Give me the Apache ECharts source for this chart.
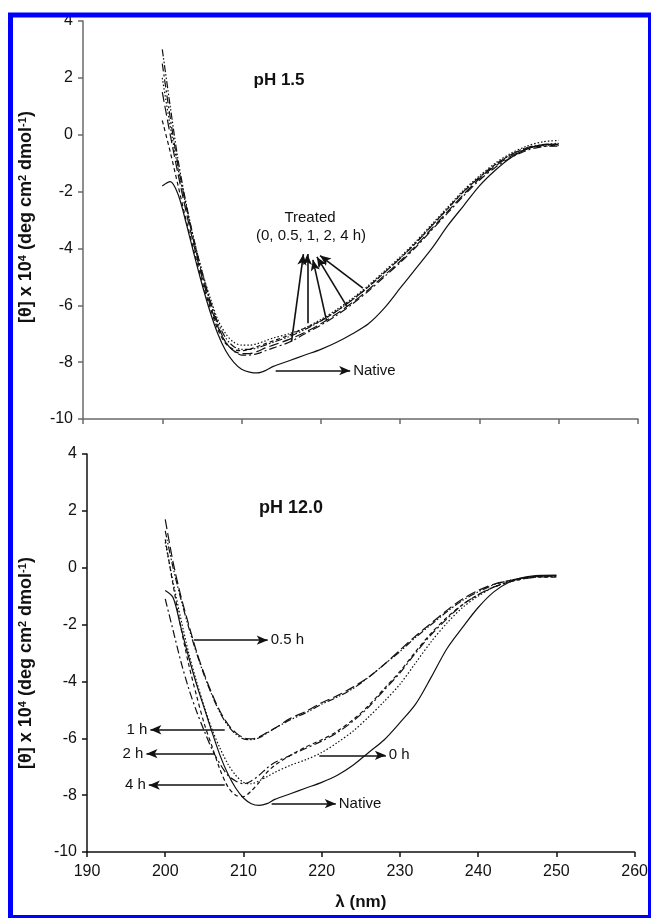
<!DOCTYPE html>
<html>
<head>
<meta charset="utf-8">
<script src="https://cdn.jsdelivr.net/npm/echarts@6/dist/echarts.min.js"></script>
<style>
  html, body { margin: 0; padding: 0; background: #fff; }
</style>
</head>
<body>
<div id="main" style="width: 651px; height: 918px"></div>
<script>
// wavelength points (nm) shared by every curve
const wl = [200, 201, 202, 203, 204, 205, 206, 207, 208, 209, 210, 211, 212, 213, 214,
  216, 218, 220, 222, 224, 226, 228, 230, 232, 234, 236, 238, 240, 242, 244, 246, 248, 250];

// pH 1.5 panel
const nativeTop = [-1.8, -1.65, -2.1, -3.1, -4.2, -5.25, -6.2, -7.0, -7.6, -8.0, -8.25, -8.35, -8.38, -8.3, -8.15,
  -7.95, -7.75, -7.55, -7.3, -7.0, -6.65, -6.1, -5.4, -4.7, -4.0, -3.2, -2.5, -1.8, -1.25, -0.8, -0.5, -0.35, -0.33];
const h0Top = [2.0, 0.3, -1.2, -2.5, -3.7, -4.8, -5.7, -6.5, -7.0, -7.3, -7.4, -7.4, -7.35, -7.25, -7.15,
  -7.0, -6.8, -6.5, -6.15, -5.75, -5.3, -4.8, -4.3, -3.75, -3.15, -2.55, -1.95, -1.45, -1.0, -0.65, -0.4, -0.25, -0.2];
const h05Top = [3.0, 1.0, -0.9, -2.4, -3.7, -4.8, -5.8, -6.6, -7.15, -7.45, -7.55, -7.55, -7.5, -7.4, -7.3,
  -7.1, -6.85, -6.55, -6.2, -5.8, -5.35, -4.85, -4.35, -3.8, -3.2, -2.6, -2.0, -1.5, -1.05, -0.7, -0.45, -0.35, -0.3];
const h1Top = [1.5, 0.0, -1.4, -2.7, -3.9, -5.0, -5.95, -6.75, -7.3, -7.6, -7.7, -7.7, -7.62, -7.5, -7.4,
  -7.2, -6.95, -6.65, -6.3, -5.9, -5.45, -4.95, -4.45, -3.9, -3.3, -2.7, -2.1, -1.55, -1.1, -0.75, -0.5, -0.38, -0.35];
const h2Top = [2.5, 0.6, -1.1, -2.5, -3.8, -4.9, -5.85, -6.7, -7.3, -7.6, -7.75, -7.75, -7.7, -7.6, -7.5,
  -7.3, -7.0, -6.7, -6.35, -5.95, -5.5, -5.0, -4.5, -3.95, -3.35, -2.75, -2.15, -1.6, -1.15, -0.8, -0.55, -0.42, -0.4];
const h4Top = [0.5, -0.6, -1.8, -3.0, -4.1, -5.15, -6.05, -6.85, -7.35, -7.55, -7.6, -7.55, -7.45, -7.35, -7.25,
  -7.05, -6.8, -6.55, -6.2, -5.8, -5.35, -4.85, -4.35, -3.8, -3.2, -2.6, -2.0, -1.5, -1.05, -0.7, -0.48, -0.4, -0.38];

// pH 12.0 panel
const nativeBot = [-0.8, -1.05, -2.1, -3.15, -4.1, -4.95, -5.8, -6.6, -7.25, -7.75, -8.1, -8.3, -8.36, -8.3, -8.15,
  -7.95, -7.75, -7.55, -7.3, -6.95, -6.5, -6.05, -5.45, -4.8, -3.85, -2.85, -2.1, -1.4, -0.85, -0.5, -0.33, -0.27, -0.26];
const h0Bot = [0.9, -0.5, -1.8, -3.0, -4.0, -4.9, -5.7, -6.35, -6.9, -7.3, -7.55, -7.6, -7.5, -7.35, -7.2,
  -6.95, -6.75, -6.5, -6.15, -5.75, -5.25, -4.7, -4.1, -3.35, -2.6, -1.95, -1.4, -1.0, -0.68, -0.48, -0.36, -0.3, -0.3];
const h05Bot = [1.3, 0.0, -1.1, -2.1, -3.0, -3.8, -4.5, -5.1, -5.55, -5.85, -6.02, -6.05, -5.98, -5.82, -5.65,
  -5.35, -5.1, -4.8, -4.55, -4.25, -3.85, -3.4, -2.95, -2.45, -2.0, -1.55, -1.15, -0.85, -0.6, -0.45, -0.35, -0.3, -0.3];
const h1Bot = [1.7, 0.2, -1.0, -2.0, -2.95, -3.75, -4.45, -5.05, -5.5, -5.8, -5.98, -6.02, -5.95, -5.8, -5.65,
  -5.3, -5.05, -4.75, -4.5, -4.2, -3.85, -3.4, -2.9, -2.4, -1.95, -1.5, -1.1, -0.8, -0.58, -0.45, -0.35, -0.3, -0.28];
const h2Bot = [-1.1, -2.2, -3.3, -4.25, -5.05, -5.75, -6.4, -6.9, -7.3, -7.5, -7.6, -7.5, -7.3, -7.05, -6.85,
  -6.6, -6.35, -6.1, -5.8, -5.4, -4.9, -4.3, -3.7, -3.0, -2.35, -1.8, -1.3, -0.95, -0.68, -0.5, -0.38, -0.32, -0.32];
const h4Bot = [1.0, -0.6, -2.1, -3.4, -4.5, -5.5, -6.3, -7.1, -7.7, -8.0, -8.05, -7.85, -7.55, -7.2, -6.95,
  -6.6, -6.3, -6.05, -5.75, -5.35, -4.85, -4.25, -3.65, -2.95, -2.3, -1.75, -1.3, -0.95, -0.68, -0.5, -0.38, -0.33, -0.33];

const FONT = "'Liberation Sans', Arial, sans-serif";

// dash patterns
const DOT = [1.5, 2];
const DASH_DOT_DOT = [7, 2, 1.5, 2, 1.5, 2];
const LONG_DASH = [10, 4];
const DASH_DOT = [8, 3, 2, 3];
const SHORT_DASH = [4, 3];

function pairs(vals) {
  return wl.map((x, i) => [x, vals[i]]);
}

function curve(name, idx, vals, dash, arrows) {
  let s = {
    name: name,
    type: "line",
    xAxisIndex: idx,
    yAxisIndex: idx,
    data: pairs(vals),
    smooth: 0.3,
    showSymbol: false,
    lineStyle: { color: "#111", width: 1.2, type: dash },
  };
  if (arrows) {
    s.markLine = {
      silent: true,
      symbol: ["none", "arrow"],
      symbolSize: [7, 11],
      lineStyle: { color: "#111", width: 1.6, type: "solid" },
      label: { show: true, position: "end", distance: 3, color: "#111", fontSize: 15, fontFamily: FONT, formatter: "{b}" },
      data: arrows.map((a) => [
        { name: a[0], coord: [a[1], a[2]] },
        { coord: [a[3], a[4]] },
      ]),
    };
  }
  return s;
}

function xAx(idx, showLabels, color) {
  return {
    type: "value",
    gridIndex: idx,
    min: 190,
    max: 260,
    interval: 10,
    splitLine: { show: false },
    axisLine: { onZero: false, lineStyle: { color: color, width: 1.5 } },
    axisTick: { length: 5, lineStyle: { color: color, width: 1.5 } },
    axisLabel: { show: showLabels, color: "#111", fontSize: 16, fontFamily: FONT, margin: 12 },
    name: showLabels ? "λ (nm)" : "",
    nameLocation: "middle",
    nameGap: 42,
    nameTextStyle: { color: "#111", fontSize: 17, fontWeight: "bold", fontFamily: FONT },
  };
}

function yAx(idx, color) {
  return {
    type: "value",
    gridIndex: idx,
    min: -10,
    max: 4,
    interval: 2,
    splitLine: { show: false },
    axisLine: { show: true, onZero: false, lineStyle: { color: color, width: 1.5 } },
    axisTick: { show: true, length: 5, lineStyle: { color: color, width: 1.5 } },
    axisLabel: { color: "#111", fontSize: 16, fontFamily: FONT, margin: 10 },
  };
}

function yTitle(cx, cy) {
  return {
    type: "text",
    x: cx,
    y: cy,
    rotation: Math.PI / 2,
    style: {
      text: "{a|[θ] x 10}{s|4}{a| (deg cm}{s|2}{a| dmol}{s|-1}{a|)}",
      align: "center",
      verticalAlign: "middle",
      fill: "#111",
      rich: {
        a: { fontSize: 18, fontWeight: "bold", fontFamily: FONT, fill: "#111" },
        s: { fontSize: 11, fontWeight: "bold", fontFamily: FONT, fill: "#111", verticalAlign: "top" },
      },
    },
  };
}

function txt(x, y, text, size, weight) {
  return {
    type: "text",
    x: x,
    y: y,
    style: { text: text, fill: "#111", fontSize: size, fontWeight: weight, fontFamily: FONT, align: "center", verticalAlign: "middle" },
  };
}

let myChart = echarts.init(document.getElementById("main"));

let option = {
  animation: false,
  backgroundColor: "#fff",
  grid: [
    { left: 83, right: 13, top: 21, height: 398 },
    { left: 87, right: 11, top: 454, height: 398 },
  ],
  xAxis: [xAx(0, false, "#6a6a6a"), xAx(1, true, "#111")],
  yAxis: [yAx(0, "#6a6a6a"), yAx(1, "#111")],
  series: [
    // pH 1.5
    curve("Native", 0, nativeTop, "solid", [["Native", 214.3, -8.3, 223.7, -8.3]]),
    curve("0 h", 0, h0Top, DOT, [
      ["", 216.3, -7.28, 217.8, -4.2],
      ["", 218.3, -6.63, 218.3, -4.2],
      ["", 220.7, -6.52, 219.0, -4.4],
      ["", 223.3, -6.05, 219.5, -4.3],
      ["", 225.3, -5.4, 219.9, -4.25],
    ]),
    curve("0.5 h", 0, h05Top, DASH_DOT_DOT),
    curve("1 h", 0, h1Top, LONG_DASH),
    curve("2 h", 0, h2Top, DASH_DOT),
    curve("4 h", 0, h4Top, SHORT_DASH),
    // pH 12.0
    curve("Native", 1, nativeBot, "solid", [["Native", 213.6, -8.3, 221.8, -8.3]]),
    curve("0 h", 1, h0Bot, DOT, [["0 h", 219.7, -6.6, 228.2, -6.6]]),
    curve("0.5 h", 1, h05Bot, DASH_DOT_DOT, [["0.5 h", 203.65, -2.55, 213.1, -2.55]]),
    curve("1 h", 1, h1Bot, LONG_DASH, [["1 h", 207.6, -5.7, 198.1, -5.7]]),
    curve("2 h", 1, h2Bot, DASH_DOT, [["2 h", 206.3, -6.54, 197.6, -6.54]]),
    curve("4 h", 1, h4Bot, SHORT_DASH, [["4 h", 207.6, -7.65, 197.9, -7.65]]),
  ],
  graphic: [
    yTitle(26, 217),
    yTitle(26, 663),
    txt(279, 80, "pH 1.5", 17, "bold"),
    txt(291, 508, "pH 12.0", 18, "bold"),
    txt(310, 218, "Treated", 15, "normal"),
    txt(311, 236, "(0, 0.5, 1, 2, 4 h)", 15, "normal"),
    // blue frame round the figure
    {
      type: "rect",
      z: 100,
      shape: { x: 10.5, y: 15, width: 640, height: 902.5 },
      style: { fill: null, stroke: "#0000ff", lineWidth: 5 },
    },
  ],
};

myChart.setOption(option);
</script>
</body>
</html>
